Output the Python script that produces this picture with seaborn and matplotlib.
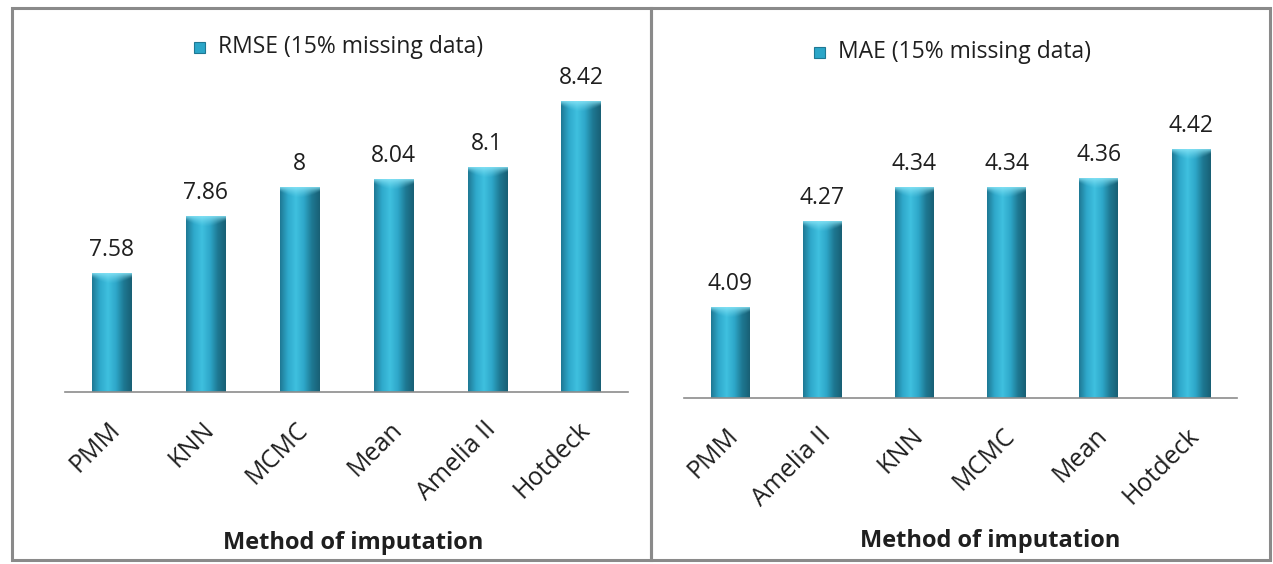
import numpy as np
import pandas as pd
import matplotlib
matplotlib.use("Agg")
import matplotlib.pyplot as plt
from matplotlib.patches import Rectangle
from matplotlib.colors import LinearSegmentedColormap, to_rgb
import matplotlib.transforms as mtransforms
import seaborn as sns

# RMSE panel
rmse_methods = ["PMM", "KNN", "MCMC", "Mean", "Amelia II", "Hotdeck"]
rmse_values = [7.58, 7.86, 8.0, 8.04, 8.1, 8.42]
rmse_labels = ["7.58", "7.86", "8", "8.04", "8.1", "8.42"]

# MAE panel
mae_methods = ["PMM", "Amelia II", "KNN", "MCMC", "Mean", "Hotdeck"]
mae_values = [4.09, 4.27, 4.34, 4.34, 4.36, 4.42]
mae_labels = ["4.09", "4.27", "4.34", "4.34", "4.36", "4.42"]

sns.set_theme(style="white")
plt.rcParams["font.family"] = ["Open Sans", "DejaVu Sans"]

W, H = 1273, 564
fig = plt.figure(figsize=(W / 100, H / 100), dpi=100)
fig.patch.set_facecolor("white")

BAR = "#2BA6C8"
TXT = "#1f1f1f"
cyl = LinearSegmentedColormap.from_list(
    "cyl", ["#1E7893", "#2FA9CB", "#3FC0DF", "#2EA7C9", "#1E7892", "#185F74"])


def px_axes(x0, x1, ytop, ybot):
    return fig.add_axes([x0 / W, 1 - ybot / H, (x1 - x0) / W, (ybot - ytop) / H])


def shade_bars(ax, ylim):
    grad = np.linspace(0, 1, 256).reshape(1, -1)
    span = ylim[1] - ylim[0]
    ax_h_px = ax.get_position().height * H
    cap = span * 11 / ax_h_px          # about 11 px of bevel at the top
    light = np.array(to_rgb("#8BE6F8"))
    nx, ny = 64, 32
    xs = np.linspace(0, 1, nx)
    ys = np.linspace(0, 1, ny)[:, None]   # 0 at top, 1 at bottom of cap
    depth = 0.45 + 0.55 * np.sin(np.pi * xs)[None, :]
    alpha = np.clip(1 - ys / depth, 0, 1) ** 1.3 * 0.85
    rgba = np.zeros((ny, nx, 4))
    rgba[..., :3] = light
    rgba[..., 3] = alpha
    for p in list(ax.patches):
        x, w, h = p.get_x(), p.get_width(), p.get_height()
        im = ax.imshow(grad, cmap=cyl, aspect="auto",
                       extent=[x, x + w, ylim[0], h], zorder=p.get_zorder() + 0.1)
        im.set_clip_path(p)
        im2 = ax.imshow(rgba, aspect="auto", origin="upper",
                        extent=[x, x + w, h - cap, h], zorder=p.get_zorder() + 0.2)
        im2.set_clip_path(p)


def panel(ax, methods, values, labels, ylim, legend_text, legend_xy):
    df = pd.DataFrame({"method": methods, "value": values})
    sns.barplot(data=df, x="method", y="value", color=BAR, width=0.42,
                saturation=1, ax=ax, edgecolor="none")
    ax.set_xlim(-0.5, len(methods) - 0.5)
    ax.set_ylim(*ylim)
    shade_bars(ax, ylim)
    ax.set_xlim(-0.5, len(methods) - 0.5)
    ax.set_ylim(*ylim)
    for i, (v, t) in enumerate(zip(values, labels)):
        ax.annotate(t, (i, v), xytext=(0, 8), textcoords="offset points",
                    ha="center", va="bottom", fontsize=16.5, color=TXT)
    for s in ["top", "right", "left"]:
        ax.spines[s].set_visible(False)
    ax.spines["bottom"].set_color("#8c8c8c")
    ax.spines["bottom"].set_linewidth(1.2)
    ax.set_yticks([])
    ax.set_ylabel("")
    ax.set_xlabel("")
    ax.tick_params(axis="x", length=0, pad=18)
    shift = mtransforms.ScaledTranslation(-4 / 100, 0, fig.dpi_scale_trans)
    for lab in ax.get_xticklabels():
        lab.set_rotation(45)
        lab.set_ha("right")
        lab.set_va("top")
        lab.set_rotation_mode("anchor")
        lab.set_fontsize(18)
        lab.set_color(TXT)
        lab.set_transform(lab.get_transform() + shift)
    # legend entry
    lx, ly = legend_xy
    fig.patches.append(Rectangle((lx / W, 1 - (ly + 6) / H), 11 / W, 11 / H,
                                 transform=fig.transFigure, facecolor=BAR,
                                 edgecolor="#1E7893", linewidth=0.8))
    fig.text((lx + 24) / W, 1 - ly / H, legend_text, ha="left", va="center",
             fontsize=16.5, color=TXT)


axL = px_axes(65, 628, 64.3, 392)
panel(axL, rmse_methods, rmse_values, rmse_labels, (7.0, 8.6),
      "RMSE (15% missing data)", (194, 47))
fig.text(353 / W, 1 - 543 / H, "Method of imputation", ha="center", va="center",
         fontsize=17, fontweight="bold", color=TXT)

axR = px_axes(684, 1237, 110.6, 398)
panel(axR, mae_methods, mae_values, mae_labels, (3.9, 4.5),
      "MAE (15% missing data)", (814, 52))
fig.text(990 / W, 1 - 541 / H, "Method of imputation", ha="center", va="center",
         fontsize=17, fontweight="bold", color=TXT)

# panel frames
for (x0, x1) in [(12, 651), (651, 1270)]:
    fig.patches.append(Rectangle((x0 / W, 1 - 560 / H), (x1 - x0) / W, 552 / H,
                                 transform=fig.transFigure, facecolor="none",
                                 edgecolor="#8a8a8a", linewidth=2.2))

fig.savefig("out.png", dpi=100)
